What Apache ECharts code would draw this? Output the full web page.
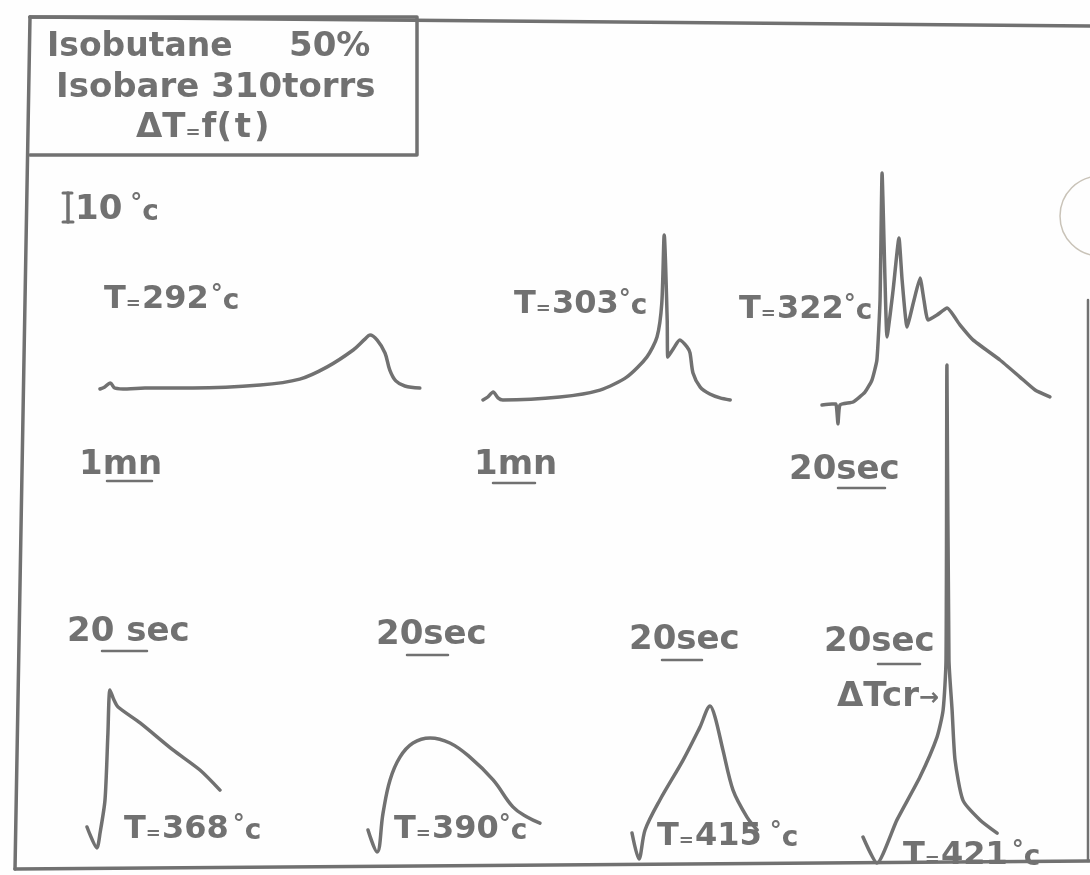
<!DOCTYPE html>
<html>
<head>
<meta charset="utf-8">
<script src="https://cdn.jsdelivr.net/npm/echarts@6/dist/echarts.min.js"></script>
<style>
  html, body { margin: 0; padding: 0; background: #fefefe; }
  #chart { width: 1090px; height: 875px; }
</style>
</head>
<body>
<div id="chart"></div>
<script>
// Isobutane 50 %, isobar 310 torr: temperature rise ΔT (°C) against time (s)
const temps = [292, 303, 322, 368, 390, 415, 421];
const timeScaleNum = ['1', '1', '20', '20 ', '20', '20', '20'];
const timeScaleUnit = ['mn', 'mn', 'sec', 'sec', 'sec', 'sec', 'sec'];

// time (s) / ΔT (°C) for each recording
const t292 = [0, 8, 17, 25, 45, 75, 155, 267, 333, 378, 422, 442, 450, 462, 475, 483, 493, 508, 533];
const dT292 = [0, 0.7, 2, 0.3, 0, 0.3, 0.3, 1.3, 3.3, 7.3, 13, 16.7, 18, 16.3, 12, 6.3, 2.7, 1, 0.3];

const t303 = [0, 8, 17, 25, 33, 128, 195, 240, 273, 290, 298, 302, 307, 308, 318, 328, 340, 345, 350, 362, 378, 395, 412];
const dT303 = [0, 1, 2.7, 0.7, 0, 1, 3.3, 7.7, 14.3, 21, 32.3, 55, 26.7, 14.3, 17.3, 20, 17.7, 15.7, 9, 4.3, 2, 0.7, 0];

const t322 = [0, 4.4, 6.2, 7.1, 8, 13.8, 19.1, 22.2, 24.4, 25.8, 26.7, 28, 28.9, 31.6, 34.2, 35.6, 37.8, 40.9, 43.6, 45.3, 47.1, 51.1, 55.6, 61.3, 67.1, 79.1, 88, 94.7, 101.3];
const dT322 = [0, 0.3, 0.3, -6.3, 0, 1, 4.3, 8.3, 15, 35, 77.3, 41.7, 22.7, 38.3, 55.7, 41.7, 26, 35, 42.3, 35, 28.3, 30, 32.3, 26.7, 21.7, 15, 9.3, 5, 2.7];

const t368 = [0, 4.4, 5.8, 8, 9.3, 10.2, 12, 13.8, 23.6, 38.2, 50.2, 59.1];
const dT368 = [0, -7, -2, 9, 31.3, 45.7, 42.3, 40, 34.7, 25.7, 19, 12.3];

const t390 = [0, 4, 6.7, 9.8, 14.2, 20, 27.6, 36.4, 45.3, 55.6, 64.4, 70.7, 76.4];
const dT390 = [0, -7.3, 5.7, 16.7, 24.3, 29, 30.7, 29, 24.3, 16.7, 7.7, 4.3, 2.3];

const t415 = [0, 3.1, 5.8, 12.4, 22.7, 30.2, 34.7, 36.9, 40.4, 44.9, 51.1, 55.6];
const dT415 = [0, -8.7, 1, 11, 24.3, 35.3, 42.3, 38.7, 27.7, 14.3, 5.3, 1];

const t421 = [0, 6.2, 15.1, 25.3, 32.9, 35.6, 36.9, 37.3, 38.2, 39.6, 40.9, 44.4, 52, 59.6];
const dT421 = [0, -8.7, 5.7, 20, 33.3, 42.3, 59, 157.3, 59, 42.3, 25.7, 12.3, 5.7, 1.3];

const curves = [
  { t: t292, dT: dT292, smooth: 0.35 },
  { t: t303, dT: dT303, smooth: 0.25 },
  { t: t322, dT: dT322, smooth: 0.15 },
  { t: t368, dT: dT368, smooth: 0.25 },
  { t: t390, dT: dT390, smooth: 0.4 },
  { t: t415, dT: dT415, smooth: 0.3 },
  { t: t421, dT: dT421, smooth: 0.2 }
];

// layout: pixel origin (t = 0, ΔT = 0) of every panel and its horizontal scale
const PX_PER_DEG = 3;           // the 10 °C bar is 30 px tall
const panels = [
  { x0: 100, base: 389, sx: 0.6,  tmax: 540, ymin: -10, ymax: 60 },
  { x0: 483, base: 400, sx: 0.6,  tmax: 420, ymin: -10, ymax: 60 },
  { x0: 822, base: 405, sx: 2.25, tmax: 105, ymin: -10, ymax: 80 },
  { x0: 87,  base: 827, sx: 2.25, tmax: 62,  ymin: -10, ymax: 50 },
  { x0: 368, base: 830, sx: 2.25, tmax: 80,  ymin: -10, ymax: 50 },
  { x0: 632, base: 833, sx: 2.25, tmax: 60,  ymin: -10, ymax: 50 },
  { x0: 863, base: 837, sx: 2.25, tmax: 62,  ymin: -10, ymax: 160 }
];

const INK = '#717171';
const FONT = 'DejaVu Sans';

function richStyles(degGap, size) {
  const s = size || 34;
  return {
    b: { fontSize: s, fontWeight: 'bold', fontFamily: FONT, fill: INK },
    s: { fontSize: 18, fontWeight: 'bold', fontFamily: FONT, fill: INK, verticalAlign: 'bottom', padding: [0, 1, 3, 0] },
    a: { fontSize: 24, fontWeight: 'bold', fontFamily: FONT, fill: INK, verticalAlign: 'bottom', padding: [0, 0, 3, 0] },
    sp: { fontSize: 9, fontFamily: FONT, fill: INK },
    d: { fontSize: 24, fontWeight: 'bold', fontFamily: FONT, fill: INK, verticalAlign: 'top', padding: [0, 0, 0, degGap || 0] },
    c: { fontSize: 28, fontWeight: 'bold', fontFamily: FONT, fill: INK, verticalAlign: 'bottom' }
  };
}

function text(x, y, str, extra, degGap, size) {
  return {
    type: 'text', x: x, y: y, silent: true,
    style: Object.assign({
      text: str, fill: INK, font: 'bold 34px "' + FONT + '"',
      align: 'left', verticalAlign: 'middle', rich: richStyles(degGap, size)
    }, extra || {})
  };
}
function seg(pts, w, color) {
  return {
    type: 'polyline', silent: true,
    shape: { points: pts },
    style: { stroke: color || INK, lineWidth: w || 3, lineCap: 'round', lineJoin: 'round', fill: null }
  };
}
function tempLabel(i) {
  return '{b|T}{s|=}{b|' + temps[i] + '}{d|°}{c|c}';
}

// temperature labels: x, y, gap before the degree sign
const tempPos = [[104, 300, 2], [514, 305, 0], [739, 310, 0], [124, 830, 4], [394, 830, 0], [657, 837, 8], [903, 856, 4]];
// time base labels and their underlines
const scalePos = [[79, 465], [474, 465], [789, 470], [67, 632], [376, 635], [629, 640], [824, 642]];
const underline = [[107, 152, 481], [493, 535, 483], [838, 885, 488], [102, 147, 651], [407, 448, 655], [662, 702, 660], [878, 920, 664]];

const graphic = [
  // outer frame
  seg([[30, 17], [1090, 26]], 3.5),
  seg([[30, 17], [15, 869]], 3.5),
  seg([[15, 869], [1090, 861]], 3.5),
  seg([[1088, 300], [1088, 861]], 2.5),
  // title box
  seg([[30, 17], [417, 17], [417, 155], [30, 155]], 3.5),
  text(47, 47, 'Isobutane', { font: 'bold 33px "' + FONT + '"' }),
  text(289, 47, '50%', { font: 'bold 34px "' + FONT + '"' }),
  text(56, 88, 'Isobare 310torrs', { font: 'bold 34px "' + FONT + '"' }),
  text(136, 128, '{b|ΔT}{s|=}{b|f(}{sp| }{b|t}{sp| }{b|)}'),
  // 10 °C scale bar
  seg([[63, 193], [72, 193]], 3),
  seg([[68, 193], [68, 222]], 3.5),
  seg([[63, 222], [73, 222]], 3),
  text(75, 210, '{b|10}{d|°}{c|c}', null, 8),
  // critical ΔT marker
  text(837, 697, '{b|ΔTcr}{a|→}'),
  // stamp in the corner
  {
    type: 'circle', silent: true,
    shape: { cx: 1100, cy: 216, r: 40 },
    style: { stroke: '#c9c3b8', lineWidth: 1.5, fill: null }
  }
];

tempPos.forEach(function (p, i) { graphic.push(text(p[0], p[1], tempLabel(i), null, p[2], 32)); });
scalePos.forEach(function (p, i) {
  graphic.push(text(p[0], p[1], '{b|' + timeScaleNum[i] + '}{b|' + timeScaleUnit[i] + '}'));
});
underline.forEach(function (u) { graphic.push(seg([[u[0], u[2]], [u[1], u[2]]], 2.5)); });

const option = {
  animation: false,
  backgroundColor: '#fefefe',
  grid: panels.map(function (p) {
    return {
      left: p.x0,
      top: p.base - PX_PER_DEG * p.ymax,
      width: p.sx * p.tmax,
      height: PX_PER_DEG * (p.ymax - p.ymin),
      containLabel: false
    };
  }),
  xAxis: panels.map(function (p, i) {
    return { type: 'value', gridIndex: i, min: 0, max: p.tmax, show: false };
  }),
  yAxis: panels.map(function (p, i) {
    return { type: 'value', gridIndex: i, min: p.ymin, max: p.ymax, show: false };
  }),
  series: curves.map(function (c, i) {
    return {
      type: 'line',
      xAxisIndex: i,
      yAxisIndex: i,
      data: c.t.map(function (t, k) { return [t, c.dT[k]]; }),
      symbol: 'none',
      smooth: c.smooth,
      clip: false,
      silent: true,
      lineStyle: { color: INK, width: 3.5, cap: 'round', join: 'round' }
    };
  }),
  graphic: graphic
};

const chart = echarts.init(document.getElementById('chart'), null, { renderer: 'canvas' });
chart.setOption(option);
</script>
</body>
</html>
